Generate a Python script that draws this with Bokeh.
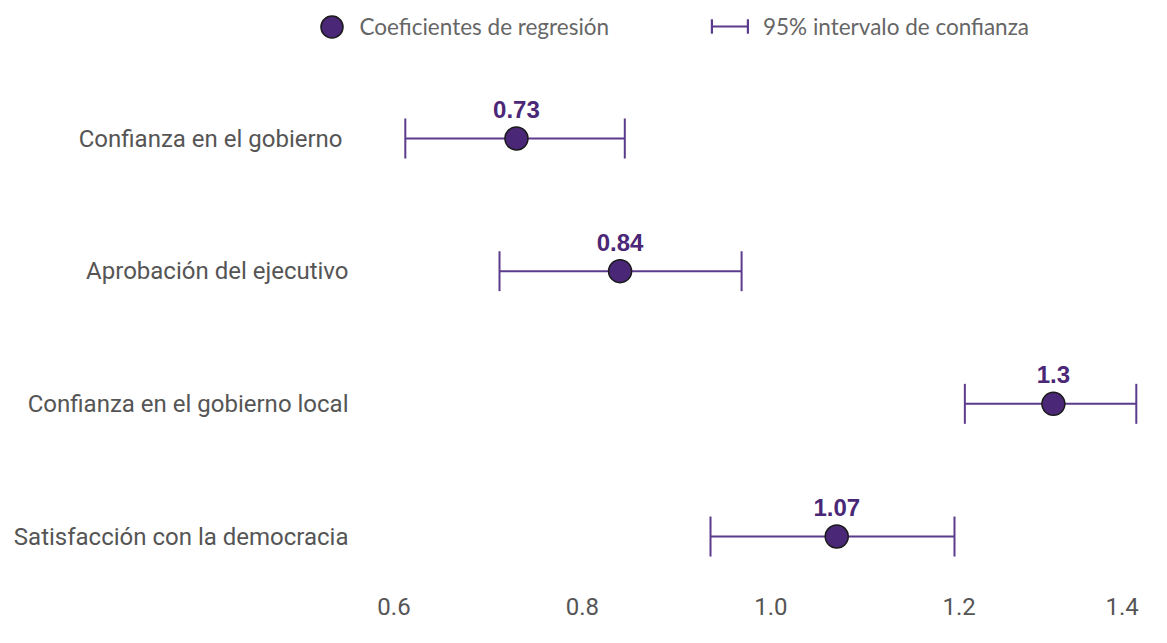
from bokeh.plotting import figure
from bokeh.models import (ColumnDataSource, Legend, LegendItem, FixedTicker,
                          Range1d, LinearAxis)
from bokeh.core.properties import value
from bokeh.embed import file_html
from bokeh.resources import INLINE

# ---- data ----
categories = ["Confianza en el gobierno ", "Aprobación del ejecutivo",
              "Confianza en el gobierno local", "Satisfacción con la democracia"]
coef = [0.73, 0.84, 1.30, 1.07]
ci_low = [0.612, 0.712, 1.206, 0.936]
ci_high = [0.845, 0.969, 1.388, 1.195]
coef_labels = ["0.73", "0.84", "1.3", "1.07"]
row_pos = [4, 3, 2, 1]
x_ticks = [0.6, 0.8, 1.0, 1.2]
x_last_tick = [1.4]
x_tick_labels = ["0.6", "0.8", "1.0", "1.2"]
x_last_label = ["1.4"]

# ---- layout (frame = whole canvas) ----
W, H = 1151, 627
xpx = 942.0                      # pixels per unit on x
x0 = 0.6 - 393.5 / xpx
x1 = x0 + W / xpx
ypx = 132.67                     # pixels per row
y1 = 4 + 138 / ypx
y0 = y1 - H / ypx
YAXIS_PX = 366                   # where category labels end (+ standoff)
XAXIS_PX = 583                   # top of the x tick labels row (- standoff)

PURPLE = "#4B2777"
LINE = "#5B3B8C"

src = ColumnDataSource(dict(cat=categories, coef=coef, lo=ci_low, hi=ci_high,
                            lab=coef_labels, y=row_pos))

p = figure(width=W, height=H, output_backend="svg", toolbar_location=None,
           x_range=Range1d(x0, x1), y_range=Range1d(y0, y1),
           min_border_left=0, min_border_bottom=0, min_border_top=0,
           min_border_right=0, x_axis_location=None, y_axis_location=None)
p.outline_line_color = None
p.grid.visible = False
p.background_fill_color = "white"
p.border_fill_color = "white"

seg = p.segment(x0="lo", y0="y", x1="hi", y1="y", source=src,
                line_color=LINE, line_width=2)
cap_kw = dict(width=2, height=40, width_units="screen", height_units="screen",
              fill_color=LINE, line_color=None)
cap_lo = p.rect(x="lo", y="y", source=src, **cap_kw)
cap_hi = p.rect(x="hi", y="y", source=src, **cap_kw)
pts = p.scatter(x="coef", y="y", source=src, size=23, fill_color=PURPLE,
                line_color="#1a1a1a", line_width=1.5)
p.text(x="coef", y="y", text="lab", source=src, y_offset=-29,
       text_align="center", text_baseline="middle",
       text_font=value("Liberation Sans"), text_font_style="bold",
       text_font_size="24px", text_color=PURPLE)


def style(ax):
    ax.axis_line_color = None
    ax.major_tick_line_color = None
    ax.minor_tick_line_color = None
    ax.major_label_text_font = "Roboto"
    ax.major_label_text_font_size = "24px"
    ax.major_label_text_color = "#555555"


# category axis
yax = LinearAxis(ticker=FixedTicker(ticks=row_pos),
                 major_label_overrides={y: c for y, c in zip(row_pos, categories)},
                 fixed_location=x0 + YAXIS_PX / xpx, major_label_standoff=12)
style(yax)
p.add_layout(yax, "left")

# value axes
xfix = y1 - XAXIS_PX / ypx
xax = LinearAxis(ticker=FixedTicker(ticks=x_ticks),
                 major_label_overrides={t: l for t, l in zip(x_ticks, x_tick_labels)},
                 fixed_location=xfix, major_label_standoff=8)
style(xax)
p.add_layout(xax, "below")
xax2 = LinearAxis(ticker=FixedTicker(ticks=x_last_tick),
                  major_label_overrides={t: l for t, l in zip(x_last_tick, x_last_label)},
                  fixed_location=xfix, major_label_standoff=8)
style(xax2)
xax2.major_label_text_align = "right"
p.add_layout(xax2, "below")

common = dict(orientation="horizontal", padding=0, margin=0,
              border_line_color=None, background_fill_alpha=0,
              label_text_font="Lato", label_text_font_size="22.5px",
              label_text_color="#666666")
leg1 = Legend(items=[LegendItem(label="Coeficientes de regresión", renderers=[pts])],
              location=(303.5, H + 1.5 - 55), glyph_width=55, glyph_height=55,
              label_standoff=1, **common)
leg2 = Legend(items=[LegendItem(label="95% intervalo de confianza", renderers=[seg])],
              location=(711, H - 9 - 34), glyph_width=37, glyph_height=34,
              label_standoff=15, **common)
p.add_layout(leg1)
p.add_layout(leg2)

# end caps of the interval legend icon
cap_style = dict(orientation="horizontal", padding=0, margin=0,
                 border_line_color=None, background_fill_alpha=0,
                 label_text_font_size="0px", glyph_width=3, glyph_height=18,
                 label_standoff=0)
for r, cx in ((cap_lo, 711.5), (cap_hi, 747.5)):
    p.add_layout(Legend(items=[LegendItem(label=" ", renderers=[r])],
                        location=(cx - 1.5, H - 17 - 18), **cap_style))

open("out.html", "w").write(file_html(p, INLINE))
